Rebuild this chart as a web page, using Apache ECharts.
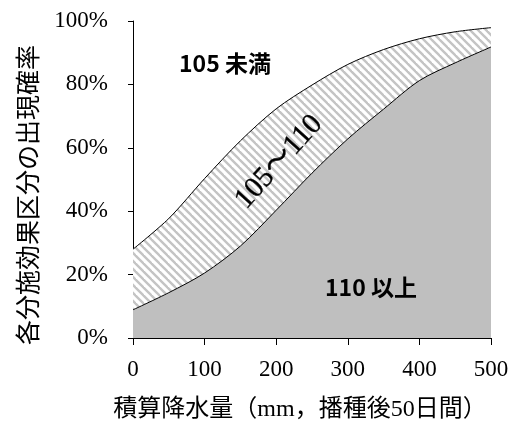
<!DOCTYPE html>
<html>
<head>
<meta charset="utf-8">
<script src="https://cdn.jsdelivr.net/npm/echarts@6/dist/echarts.min.js"></script>
<style>html,body{margin:0;padding:0;background:#fff;}#c{width:517px;height:425px;}</style>
</head>
<body>
<div id="c"></div>
<script>
// Data
const rainfall = [0, 50, 100, 150, 200, 250, 300, 350, 400, 450, 500];        // mm
const over110  = [8.9, 14.3, 20.5, 29.0, 40.3, 52.0, 62.8, 72.2, 81.2, 86.8, 91.8]; // % (110 以上)
const upperBoundary = [28.0, 37.7, 50.3, 62.2, 72.3, 79.8, 86.3, 91.0, 94.4, 96.6, 97.9]; // % (105 未満 boundary)
const yTicks = [0, 20, 40, 60, 80, 100];
const xTicks = [0, 100, 200, 300, 400, 500];

// hatch pattern
const tile = document.createElement('canvas');
tile.width = 8; tile.height = 8;
const g = tile.getContext('2d');
g.fillStyle = '#ffffff'; g.fillRect(0, 0, 8, 8);
g.strokeStyle = '#c4c4c4'; g.lineWidth = 2.4;
for (let k = -1; k <= 1; k++) {
  g.beginPath(); g.moveTo(k * 8 - 2, -2); g.lineTo(k * 8 + 10, 10); g.stroke();
}

const serif = '"Liberation Serif", "Times New Roman", "Noto Sans CJK JP", serif';
const sans = '"Noto Sans CJK JP", sans-serif';
const chart = echarts.init(document.getElementById('c'), null, {renderer: 'canvas'});
chart.setOption({
  animation: false,
  backgroundColor: '#ffffff',
  grid: {left: 133, right: 26, top: 21, bottom: 87},
  xAxis: {
    type: 'value', min: 0, max: 500, interval: 100,
    axisLine: {show: true, lineStyle: {color: '#000', width: 1}},
    axisTick: {show: true, length: 7, lineStyle: {color: '#000'}},
    splitLine: {show: false},
    axisLabel: {color: '#000', fontFamily: serif, fontSize: 23, margin: 20,
      formatter: v => xTicks.includes(v) ? String(v) : ''}
  },
  yAxis: {
    type: 'value', min: 0, max: 100, interval: 20,
    axisLine: {show: true, lineStyle: {color: '#000', width: 1}},
    axisTick: {show: true, length: 5, lineStyle: {color: '#000'}},
    splitLine: {show: false},
    axisLabel: {color: '#000', fontFamily: serif, fontSize: 23, margin: 25,
      formatter: v => yTicks.includes(v) ? v + '%' : ''}
  },
  series: [
    {
      type: 'line', smooth: 0.3, symbol: 'none',
      data: rainfall.map((x, i) => [x, upperBoundary[i]]),
      lineStyle: {color: '#000', width: 1},
      areaStyle: {color: {image: tile, repeat: 'repeat'}, opacity: 1},
      z: 1
    },
    {
      type: 'line', smooth: 0.3, symbol: 'none',
      data: rainfall.map((x, i) => [x, over110[i]]),
      lineStyle: {color: '#000', width: 1},
      areaStyle: {color: '#bfbfbf', opacity: 1},
      z: 2
    }
  ],
  graphic: [
    {type: 'text', z: 100, x: 179, y: 63, style: {text: '105 未満', fontFamily: sans, fontWeight: 'bold', fontSize: 23, fill: '#000', verticalAlign: 'middle'}},
    {type: 'text', z: 100, x: 325, y: 287, style: {text: '110 以上', fontFamily: sans, fontWeight: 'bold', fontSize: 23, fill: '#000', verticalAlign: 'middle'}},
    {type: 'text', z: 100, x: 279, y: 162, rotation: 48 * Math.PI / 180,
      style: {text: '105～110', fontFamily: serif, fontSize: 29, fill: '#000', stroke: '#000', lineWidth: 0.4, align: 'center', verticalAlign: 'middle'}},
    {type: 'text', z: 100, x: 27, y: 195, rotation: Math.PI / 2,
      style: {text: '各分施効果区分の出現確率', fontFamily: sans, fontSize: 25, fill: '#000', align: 'center', verticalAlign: 'middle'}},
    {type: 'text', z: 100, x: 300, y: 410,
      style: {text: '積算降水量（mm，播種後50日間）', fontFamily: serif, fontSize: 24, fill: '#000', align: 'center', verticalAlign: 'middle'}}
  ]
});
</script>
</body>
</html>
